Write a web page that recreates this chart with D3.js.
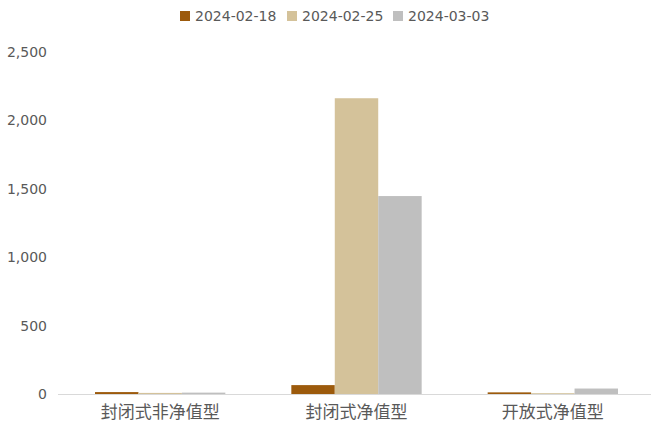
<!doctype html>
<html>
<head>
<meta charset="utf-8">
<script src="https://d3js.org/d3.v7.min.js"></script>
<style>
  body { margin:0; background:#fff; }
  text { font-family: "DejaVu Sans", "Noto Sans CJK SC", sans-serif; }
  .cat { font-family: "Noto Sans CJK SC", sans-serif; }
</style>
</head>
<body>
<svg id="chart" width="651" height="428"></svg>
<script>
// data
const categories = ["封闭式非净值型", "封闭式净值型", "开放式净值型"];
const seriesNames = ["2024-02-18", "2024-02-25", "2024-03-03"];
const s0218 = [14, 65, 12];
const s0225 = [8, 2162, 6];
const s0303 = [10, 1447, 40];
const yTicks = [0, 500, 1000, 1500, 2000, 2500];
const colors = ["#9C5A0C", "#D4C29A", "#BFBFBF"];

const allSeries = [s0218, s0225, s0303];
const svg = d3.select("#chart");

const x0 = d3.scaleBand().domain(categories).range([62, 651]);
// bars occupy ~131px of a ~197px band
const x1 = d3.scaleBand().domain(seriesNames).range([33, x0.bandwidth() - 33]).padding(0);

const y = d3.scaleLinear().domain([0, 2500]).range([394, 52]);

// y tick labels
svg.append("g").selectAll("text").data(yTicks).join("text")
  .attr("x", 47).attr("y", d => y(d)).attr("dy", "0.35em")
  .attr("text-anchor", "end").attr("font-size", 14).attr("fill", "#595959")
  .text(d => d3.format(",")(d));

// bars
const groups = svg.append("g").selectAll("g").data(categories).join("g")
  .attr("transform", d => `translate(${x0(d)},0)`);
groups.selectAll("rect")
  .data((c, i) => seriesNames.map((s, j) => ({ s, j, v: allSeries[j][i] })))
  .join("rect")
  .attr("x", d => x1(d.s)).attr("width", x1.bandwidth())
  .attr("y", d => y(d.v)).attr("height", d => y(0) - y(d.v))
  .attr("fill", d => colors[d.j]);

// x axis line
svg.append("line").attr("x1", 58).attr("x2", 651)
  .attr("y1", y(0) + 0.5).attr("y2", y(0) + 0.5)
  .attr("stroke", "#d9d9d9").attr("stroke-width", 1);

// category labels
svg.append("g").selectAll("text").data(categories).join("text")
  .attr("class", "cat")
  .attr("x", d => x0(d) + x0.bandwidth() / 2).attr("y", 418)
  .attr("text-anchor", "middle").attr("font-size", 17).attr("fill", "#595959")
  .text(d => d);

// legend
const legendX = [180, 287, 393];
const lg = svg.append("g").selectAll("g").data(seriesNames).join("g")
  .attr("transform", (d, i) => `translate(${legendX[i]},11)`);
lg.append("rect").attr("width", 10).attr("height", 10).attr("fill", (d, i) => colors[i]);
lg.append("text").attr("x", 15).attr("y", 5).attr("dy", "0.35em")
  .attr("font-size", 14).attr("fill", "#595959").text(d => d);
</script>
</body>
</html>
